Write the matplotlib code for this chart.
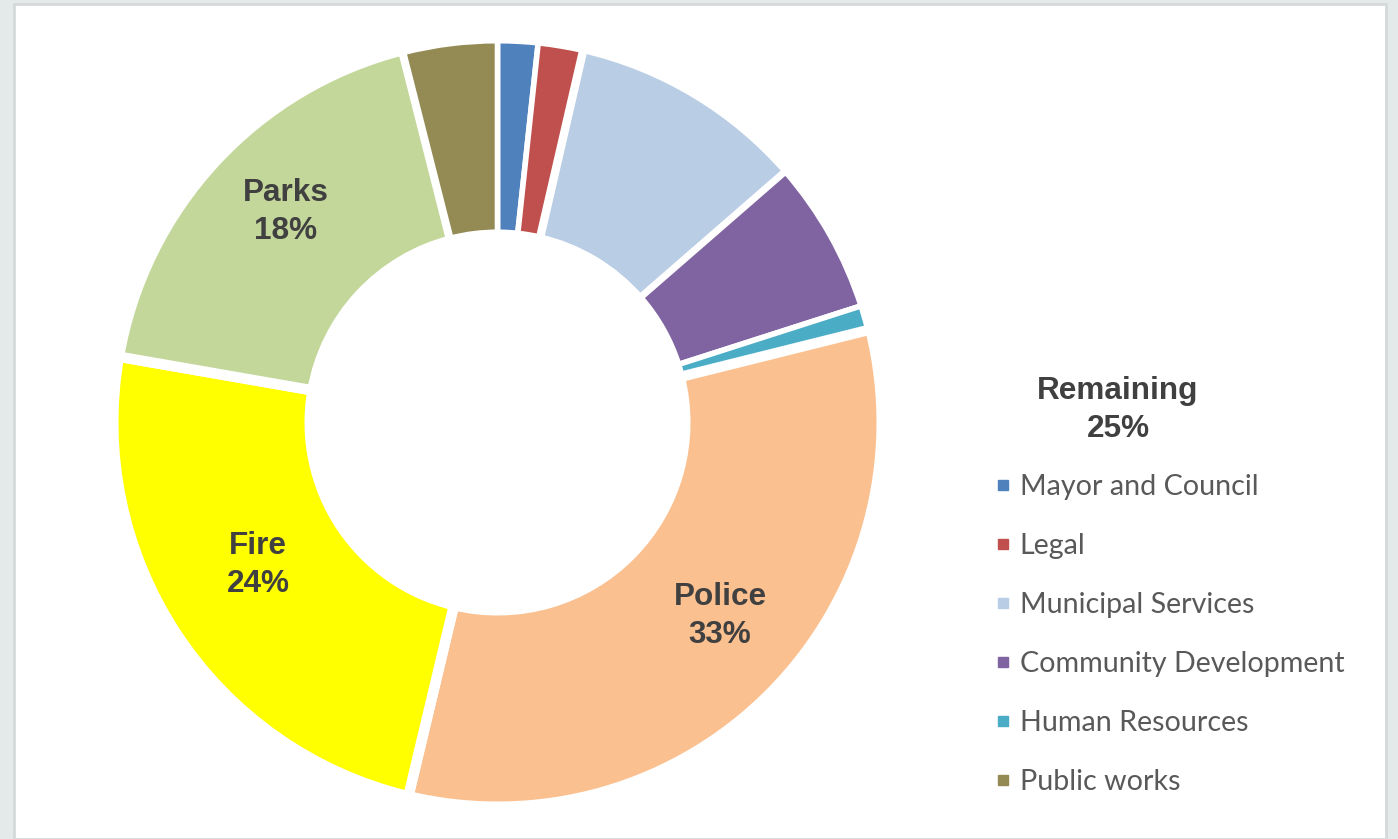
import matplotlib
matplotlib.use("Agg")
import matplotlib.pyplot as plt
from matplotlib.patches import Rectangle
from matplotlib.lines import Line2D

categories = ["Mayor and Council", "Legal", "Municipal Services", "Community Development",
              "Human Resources", "Police", "Fire", "Parks", "Public works"]
values = [1.7, 1.9, 10.0, 6.45, 1.05, 32.6, 24.0, 18.3, 3.95]
colors = ["#4F81BD", "#C0504D", "#B9CDE5", "#8064A2", "#4BACC6",
          "#FAC090", "#FFFF00", "#C4D79B", "#948A54"]
# white separator width per slice (pixels) -- styling only
edge_px = [5.6, 5.6, 8.4, 5.6, 5.6, 10.5, 10.5, 10.5, 5.6]
legend_items = ["Mayor and Council", "Legal", "Municipal Services",
                "Community Development", "Human Resources", "Public works"]
big_labels = {"Police": "Police\n33%", "Fire": "Fire\n24%", "Parks": "Parks\n18%"}
remaining_label = "Remaining\n25%"

W, H = 1398, 839
fig = plt.figure(figsize=(W / 100, H / 100), dpi=100)
fig.patch.set_facecolor("#E4EAE9")

# white slide panel
panel = Rectangle((14 / W, 0), (1386 - 14) / W, (H - 4) / H, transform=fig.transFigure,
                  facecolor="white", edgecolor="#D6D9D9", linewidth=2, zorder=-5)
fig.patches.append(panel)

# donut axes, data units = pixels
cx, cy, A = 497.5, 422.5, 400
R_out, R_in = 379, 193
ax = fig.add_axes([(cx - A) / W, 1 - (cy + A) / H, 2 * A / W, 2 * A / H])
ax.set_zorder(2)
ax.patch.set_alpha(0)

wedges, _ = ax.pie(values, colors=colors, startangle=90, counterclock=False, radius=R_out,
                   wedgeprops=dict(width=R_out - R_in, edgecolor="white", linewidth=4))
for w, e in zip(wedges, edge_px):
    w.set_radius(R_out + e / 2)
    w.set_width(R_out - R_in + e)
    w.set_linewidth(e * 0.72)
ax.set_xlim(-A, A)
ax.set_ylim(-A, A)
ax.set_aspect("equal")
ax.axis("off")

label_font = dict(family=["Liberation Sans", "DejaVu Sans"], fontweight="bold",
                  fontsize=22.7, color="#404040", ha="center", va="center", linespacing=1.38,
                  zorder=5)
label_pos = {"Parks": (285.5, 212), "Fire": (258, 565), "Police": (720, 616)}
for name, txt in big_labels.items():
    x, y = label_pos[name]
    fig.text(x / W, 1 - y / H, txt, **label_font)
fig.text(1118 / W, 1 - 410 / H, remaining_label, **label_font)

handles = []
for name in legend_items:
    c = colors[categories.index(name)]
    handles.append(Line2D([], [], linestyle="none", marker="s", markersize=7.9,
                          markerfacecolor=c, markeredgecolor=c))
leg = fig.legend(handles, legend_items, loc="upper left",
                 bbox_to_anchor=(994 / W, 1 - 474 / H), frameon=False,
                 prop=dict(family=["Lato", "DejaVu Sans"], size=20.6),
                 labelcolor="#595959", handlelength=0.6, handletextpad=0.3,
                 labelspacing=1.15, borderpad=0, borderaxespad=0)
leg.set_zorder(5)

fig.savefig("out.png", dpi=100, facecolor=fig.get_facecolor())
